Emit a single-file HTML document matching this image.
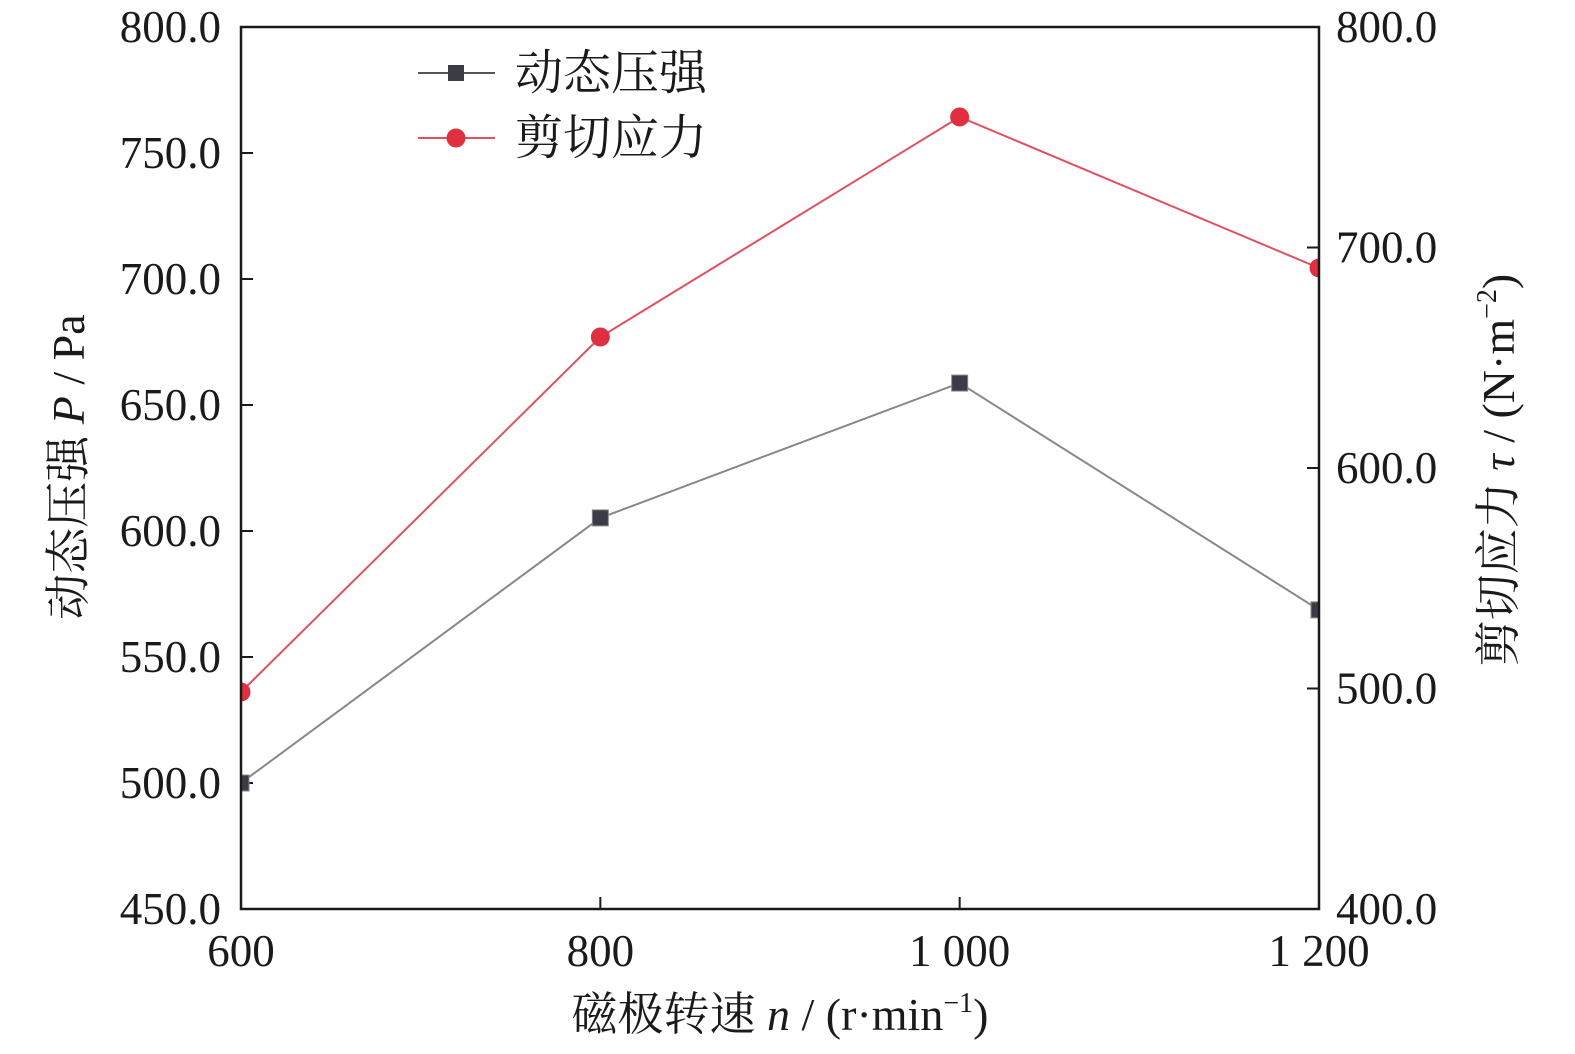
<!DOCTYPE html>
<html><head><meta charset="utf-8"><style>
html,body{margin:0;padding:0;background:#fff;}
svg text{font-family:"Liberation Serif","Noto Serif CJK SC",serif;fill:#1a1a1a;}
</style></head><body>
<svg id="chart" width="1575" height="1049" viewBox="0 0 1575 1049" xmlns="http://www.w3.org/2000/svg">
<defs><clipPath id="clip"><rect x="241" y="27" width="1078" height="882"/></clipPath></defs>
<g id="axes"></g>
<g id="series" clip-path="url(#clip)"></g>
<rect x="241" y="27" width="1078" height="882" fill="none" stroke="#1a1a1a" stroke-width="2.5"/>
<g>
<g>
<line x1="418" y1="73" x2="495" y2="73" stroke="#555" stroke-width="2"/>
<rect x="448" y="65" width="16" height="16" fill="#3a3d45"/>
<text x="515" y="89" font-size="48">动态压强</text></g>
<g>
<line x1="418" y1="138" x2="495" y2="138" stroke="#e05060" stroke-width="2"/>
<circle cx="456" cy="138" r="9.5" fill="#e0303f"/>
<text x="515" y="154" font-size="48">剪切应力</text></g>
</g>
<text x="780" y="1030" font-size="46" text-anchor="middle">磁极转速 <tspan font-style="italic">n</tspan> / (r·min<tspan font-size="28" dy="-18">−1</tspan><tspan dy="18">)</tspan></text>
<text transform="translate(84,467) rotate(-90)" font-size="46" text-anchor="middle">动态压强 <tspan font-style="italic">P</tspan> / Pa</text>
<text transform="translate(1514,470) rotate(-90)" font-size="46" text-anchor="middle">剪切应力 <tspan font-style="italic">τ</tspan> / (N·m<tspan font-size="28" dy="-18">−2</tspan><tspan dy="18">)</tspan></text>
</svg>
<script>
const categories=[600,800,1000,1200];
const pressureValues=[500.0,605.2,658.7,568.7];
const shearValues=[498.4,659.4,759.2,690.7];
const xTicks=[600,800,1000,1200];
const xTickLabels=["600","800","1 000","1 200"];
const leftTicks=[450,500,550,600,650,700,750,800];
const rightTicks=[400,500,600,700,800];
const NS="http://www.w3.org/2000/svg";
const L=241,R=1319,T=27,B=909;
const x=v=>L+(v-600)/(1200-600)*(R-L);
const yL=v=>B-(v-450)/(800-450)*(B-T);
const yR=v=>B-(v-400)/(800-400)*(B-T);
function mk(tag,attrs,parent,txt){const e=document.createElementNS(NS,tag);for(const k in attrs)e.setAttribute(k,attrs[k]);if(txt!==undefined)e.textContent=txt;parent.appendChild(e);return e;}
const axes=document.getElementById('axes'),ser=document.getElementById('series');
xTicks.forEach((t,i)=>{
 const l=mk('line',{x1:x(t),x2:x(t),y1:B,y2:B-12,stroke:'#1a1a1a','stroke-width':2},axes);
 
 
 const tx=mk('text',{x:x(t),y:966,'font-size':45,'text-anchor':'middle'},axes,xTickLabels[i]);
 
 
});
leftTicks.forEach(t=>{
 const l=mk('line',{x1:L,x2:L+12,y1:yL(t),y2:yL(t),stroke:'#1a1a1a','stroke-width':2},axes);
 
 
 const tx=mk('text',{x:221,y:yL(t)+15,'font-size':45,'text-anchor':'end'},axes,t.toFixed(1));
 
 
});
rightTicks.forEach(t=>{
 const l=mk('line',{x1:R,x2:R-12,y1:yR(t),y2:yR(t),stroke:'#1a1a1a','stroke-width':2},axes);
 
 
 const tx=mk('text',{x:1336,y:yR(t)+15,'font-size':45,'text-anchor':'start'},axes,t.toFixed(1));
 
 
});
const p1=mk('polyline',{points:categories.map((c,i)=>x(c)+','+yL(pressureValues[i])).join(' '),fill:'none',stroke:'#888','stroke-width':2},ser);


const p2=mk('polyline',{points:categories.map((c,i)=>x(c)+','+yR(shearValues[i])).join(' '),fill:'none',stroke:'#e05060','stroke-width':2},ser);


categories.forEach((c,i)=>{
 const r=mk('rect',{x:x(c)-8,y:yL(pressureValues[i])-8,width:16,height:16,fill:'#3a3d45',stroke:'#888','stroke-width':1},ser);
 
 
 const ci=mk('circle',{cx:x(c),cy:yR(shearValues[i]),r:9.5,fill:'#e0303f'},ser);
 
 
});
</script>
</body></html>
